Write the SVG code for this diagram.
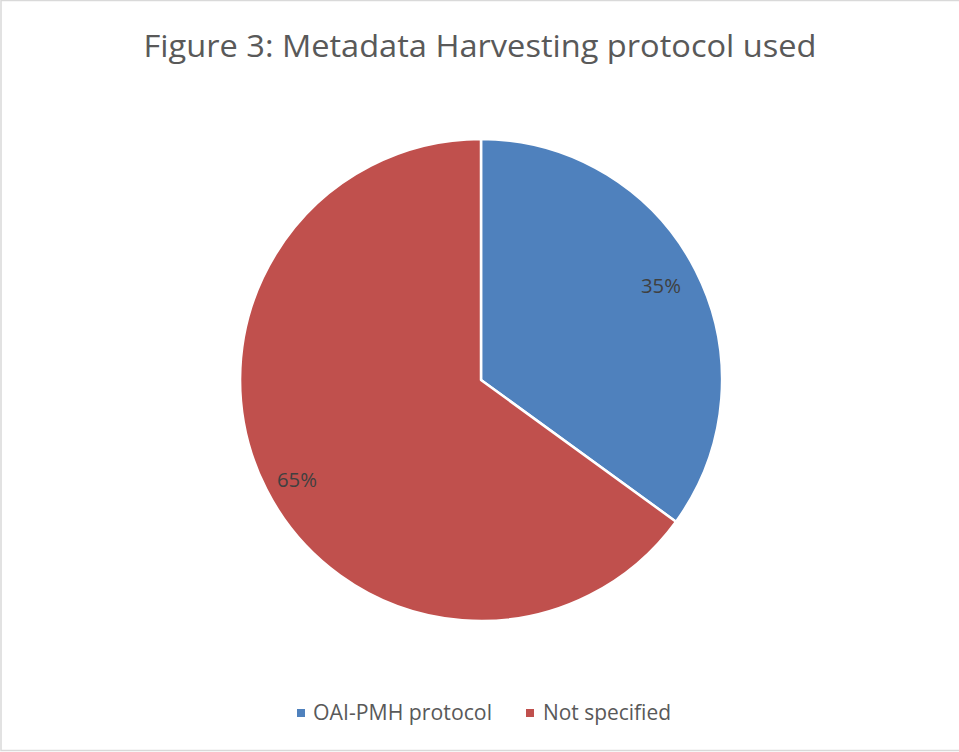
<svg xmlns="http://www.w3.org/2000/svg" width="959" height="752" viewBox="0 0 959 752">
<style>
.t{font-family:"Open Sans","Liberation Sans",sans-serif;fill:#595959}
.lbl{font-family:"Open Sans","Liberation Sans",sans-serif;fill:#404040;font-size:20px;text-anchor:middle}
.sl{stroke:#fff;stroke-width:2.5;stroke-linejoin:round}
</style>
<rect x="0" y="0" width="959" height="752" fill="#fff"/>
<rect x="1" y="0.5" width="962" height="750" fill="none" stroke="#d9d9d9" stroke-width="1.5"/>
<text class="t" x="480" y="57" font-size="31" text-anchor="middle" textLength="673" lengthAdjust="spacingAndGlyphs">Figure 3: Metadata Harvesting protocol used</text>
<g id="slice-oai">
<path class="sl" fill="#4F81BD" d="M481,380 L481,139 A241,241 0 0 1 676,521.7 Z"/>
<text class="lbl" x="661" y="293" textLength="40" lengthAdjust="spacingAndGlyphs">35%</text>
</g>
<g id="slice-notspecified">
<path class="sl" fill="#C0504D" d="M481,380 L676,521.7 A241,241 0 1 1 481,139 Z"/>
<text class="lbl" x="297" y="487" textLength="40" lengthAdjust="spacingAndGlyphs">65%</text>
</g>
<g id="legend">
<rect x="297" y="709" width="8" height="8" fill="#4F81BD"/>
<text class="t" x="313" y="720" font-size="21" textLength="179" lengthAdjust="spacingAndGlyphs">OAI-PMH protocol</text>
<rect x="526" y="709" width="8" height="8" fill="#C0504D"/>
<text class="t" x="543" y="720" font-size="21" textLength="128" lengthAdjust="spacingAndGlyphs">Not specified</text>
</g>
</svg>
